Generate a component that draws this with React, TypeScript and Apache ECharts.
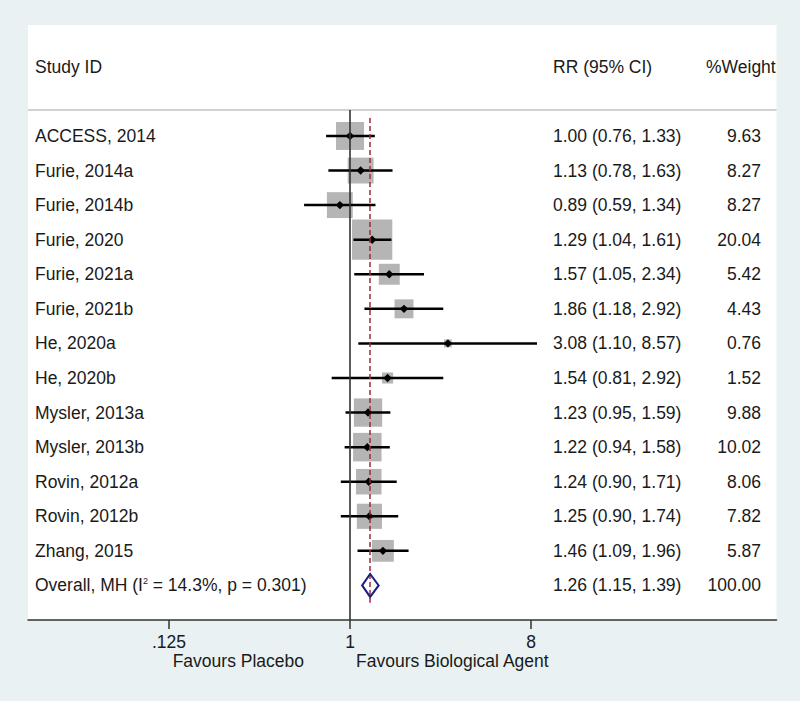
import React, { useEffect, useRef } from "react";
import * as echarts from "echarts";

const studies = [
  "ACCESS, 2014",
  "Furie, 2014a",
  "Furie, 2014b",
  "Furie, 2020",
  "Furie, 2021a",
  "Furie, 2021b",
  "He, 2020a",
  "He, 2020b",
  "Mysler, 2013a",
  "Mysler, 2013b",
  "Rovin, 2012a",
  "Rovin, 2012b",
  "Zhang, 2015",
];
const rr = [1.0, 1.13, 0.89, 1.29, 1.57, 1.86, 3.08, 1.54, 1.23, 1.22, 1.24, 1.25, 1.46];
const ciLow = [0.76, 0.78, 0.59, 1.04, 1.05, 1.18, 1.1, 0.81, 0.95, 0.94, 0.9, 0.9, 1.09];
const ciHigh = [1.33, 1.63, 1.34, 1.61, 2.34, 2.92, 8.57, 2.92, 1.59, 1.58, 1.71, 1.74, 1.96];
const weights = [9.63, 8.27, 8.27, 20.04, 5.42, 4.43, 0.76, 1.52, 9.88, 10.02, 8.06, 7.82, 5.87];

const overallLabel = ["Overall, MH (I", "2", " = 14.3%, p = 0.301)"];
const overallRR = [1.26];
const overallLow = [1.15];
const overallHigh = [1.39];
const overallWeight = [100.0];

const headers = ["Study ID", "RR (95% CI)", "%Weight"];
const xTickValues = [0.125, 1, 8];
const xTickLabels = [".125", "1", "8"];
const axisTitles = ["Favours Placebo", "Favours Biological Agent"];

const FONT = "'Liberation Sans', Arial, Helvetica, sans-serif";
const FS = 17.5;
const TXT = "#1a1a1a";
const log2 = (v: number) => Math.log(v) / Math.LN2;

const X_MIN = -5.337;
const X_MAX = 7.069;
const Y_MIN = -3.21;
const Y_MAX = 14;

export default function App() {
  const ref = useRef<HTMLDivElement>(null);
  useEffect(() => {
    document.body.style.margin = "0";
    if (!ref.current) return;
    const chart = echarts.init(ref.current, undefined, { renderer: "svg" });

    const rowData = studies.map((s, i) => [i, log2(rr[i]), log2(ciLow[i]), log2(ciHigh[i]), weights[i]]);
    const overallRow = studies.length;
    const overallData = [[overallRow, log2(overallRR[0]), log2(overallLow[0]), log2(overallHigh[0]), overallWeight[0]]];
    const tickLog = xTickValues.map(log2);
    const labelMap: Record<string, string> = {};
    tickLog.forEach((v, i) => (labelMap[String(Math.round(v))] = xTickLabels[i]));

    const textStyle = (text: string, x: number, y: number, align: string) => ({
      type: "text",
      style: { text, x, y, fill: TXT, fontSize: FS, fontFamily: FONT, align, verticalAlign: "middle" },
    });

    const option: any = {
      animation: false,
      backgroundColor: "#e9f1f2",
      grid: { left: 28, right: 23.5, top: 25, bottom: 81, show: true, backgroundColor: "#ffffff", borderWidth: 0 },
      xAxis: {
        type: "value",
        min: X_MIN,
        max: X_MAX,
        position: "bottom",
        splitLine: { show: false },
        axisLine: { show: true, onZero: false, lineStyle: { color: "#333333", width: 1.5 } },
        axisTick: { show: true, customValues: tickLog, length: 9, lineStyle: { color: "#333333", width: 1.5 } },
        axisLabel: {
          customValues: tickLog,
          formatter: (v: number) => labelMap[String(Math.round(v))] ?? "",
          fontSize: FS,
          fontFamily: FONT,
          color: TXT,
          margin: 13,
        },
      },
      yAxis: {
        type: "value",
        inverse: true,
        min: Y_MIN,
        max: Y_MAX,
        show: false,
      },
      graphic: [
        { type: "text", left: 35, top: 68 - FS / 2 - 1, style: { text: headers[0], fill: TXT, fontSize: FS, fontFamily: FONT } },
        { type: "text", left: 553, top: 68 - FS / 2 - 1, style: { text: headers[1], fill: TXT, fontSize: FS, fontFamily: FONT } },
        { type: "text", left: 706, top: 68 - FS / 2 - 1, style: { text: headers[2], fill: TXT, fontSize: FS, fontFamily: FONT } },
        { type: "text", right: 800 - 304, top: 662 - FS / 2 - 1, style: { text: axisTitles[0], fill: TXT, fontSize: FS, fontFamily: FONT } },
        { type: "text", left: 356, top: 662 - FS / 2 - 1, style: { text: axisTitles[1], fill: TXT, fontSize: FS, fontFamily: FONT } },
      ],
      series: [
        {
          type: "custom",
          z: 2,
          silent: true,
          data: rowData,
          encode: { x: [1, 2, 3], y: 0 },
          renderItem: (params: any, api: any) => {
            const i = api.value(0);
            const p = api.coord([api.value(1), i]);
            const side = 9 * Math.sqrt(api.value(4));
            return {
              type: "rect",
              shape: { x: p[0] - side / 2, y: p[1] - side / 2, width: side, height: side },
              style: { fill: "#b5b5b5" },
            };
          },
        },
        {
          type: "scatter",
          z: 3,
          silent: true,
          data: [],
          markLine: {
            silent: true,
            symbol: "none",
            label: { show: false },
            animation: false,
            data: [
              [
                { coord: [X_MIN, -0.75], lineStyle: { color: "#c2c2c2", width: 1.5, type: "solid" } },
                { coord: [X_MAX, -0.75] },
              ],
              [
                { coord: [0, -0.75], lineStyle: { color: "#333333", width: 1.6, type: "solid" } },
                { coord: [0, Y_MAX] },
              ],
              [
                { coord: [log2(overallRR[0]), -0.52], lineStyle: { color: "#a3293d", width: 1.5, type: [5, 3] } },
                { coord: [log2(overallRR[0]), 13.5] },
              ],
            ],
          },
        },
        {
          type: "custom",
          z: 4,
          silent: true,
          data: rowData,
          encode: { x: [1, 2, 3], y: 0 },
          renderItem: (params: any, api: any) => {
            const i = api.value(0);
            const p = api.coord([api.value(1), i]);
            const l = api.coord([api.value(2), i]);
            const h = api.coord([api.value(3), i]);
            const d = 4.2;
            const idx = params.dataIndex;
            const rrText = `${rr[idx].toFixed(2)} (${ciLow[idx].toFixed(2)}, ${ciHigh[idx].toFixed(2)})`;
            return {
              type: "group",
              children: [
                {
                  type: "line",
                  shape: { x1: l[0], y1: l[1], x2: h[0], y2: h[1] },
                  style: { stroke: "#000000", lineWidth: 2.5 },
                },
                {
                  type: "polygon",
                  shape: { points: [[p[0] - d, p[1]], [p[0], p[1] - d], [p[0] + d, p[1]], [p[0], p[1] + d]] },
                  style: { fill: "#000000" },
                },
                textStyle(studies[idx], 35, p[1], "left"),
                textStyle(rrText, 553, p[1], "left"),
                textStyle(weights[idx].toFixed(2), 761, p[1], "right"),
              ],
            };
          },
        },
        {
          type: "custom",
          z: 5,
          silent: true,
          data: overallData,
          encode: { x: [1, 2, 3], y: 0 },
          renderItem: (params: any, api: any) => {
            const i = api.value(0);
            const p = api.coord([api.value(1), i]);
            const l = api.coord([api.value(2), i]);
            const h = api.coord([api.value(3), i]);
            const hh = 11.5;
            const rrText = `${overallRR[0].toFixed(2)} (${overallLow[0].toFixed(2)}, ${overallHigh[0].toFixed(2)})`;
            return {
              type: "group",
              children: [
                {
                  type: "polygon",
                  shape: { points: [[l[0], p[1]], [p[0], p[1] - hh], [h[0], p[1]], [p[0], p[1] + hh]] },
                  style: { fill: "none", stroke: "#1f1f80", lineWidth: 2 },
                },
                {
                  type: "text",
                  style: {
                    text: `{a|${overallLabel[0]}}{s|${overallLabel[1]}}{a|${overallLabel[2]}}`,
                    x: 35,
                    y: p[1],
                    fill: TXT,
                    fontSize: FS,
                    fontFamily: FONT,
                    align: "left",
                    verticalAlign: "middle",
                    rich: {
                      a: { fontSize: FS, fontFamily: FONT, fill: TXT },
                      s: { fontSize: 9, fontFamily: FONT, fill: TXT, verticalAlign: "top", padding: [0, 0, 8, 0] },
                    },
                  },
                },
                textStyle(rrText, 553, p[1], "left"),
                textStyle(overallWeight[0].toFixed(2), 761, p[1], "right"),
              ],
            };
          },
        },
      ],
    };
    chart.setOption(option);
    return () => chart.dispose();
  }, []);
  return <div ref={ref} style={{ width: 800, height: 701 }} />;
}
